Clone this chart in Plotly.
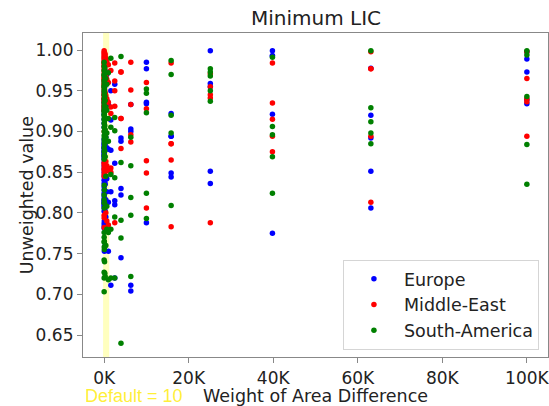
import plotly.graph_objects as go

# ---------------- data ----------------
weights = [1, 1.585, 2.512, 3.981, 6.31, 10, 15.85, 25.12, 39.81, 63.1, 100,
           158.5, 251.2, 398.1, 631, 1000, 1585, 2512, 3981, 6310, 10000,
           15849, 25119, 39811, 63096, 100000]

europe = [
    [0.939, 0.890, 0.875, 0.840, 0.815],
    [0.935, 0.886, 0.872, 0.836, 0.812],
    [0.930, 0.882, 0.869, 0.832, 0.809],
    [0.926, 0.879, 0.866, 0.828, 0.806],
    [0.921, 0.884, 0.862, 0.824, 0.802],
    [0.915, 0.880, 0.858, 0.821, 0.787],
    [0.910, 0.876, 0.854, 0.818, 0.784],
    [0.905, 0.873, 0.850, 0.815, 0.781],
    [0.948, 0.870, 0.846, 0.812, 0.790],
    [0.944, 0.868, 0.843, 0.810, 0.753],
    [0.940, 0.877, 0.840, 0.808, 0.793],
    [0.955, 0.888, 0.838, 0.805, 0.786],
    [0.960, 0.885, 0.835, 0.802, 0.760],
    [0.965, 0.893, 0.845, 0.816, 0.795],
    [0.970, 0.938, 0.880, 0.842, 0.826],
    [0.973, 0.933, 0.878, 0.813, 0.753],
    [0.950, 0.914, 0.877, 0.826, 0.711],
    [0.958, 0.861, 0.815, 0.810, 0.720],
    [0.892, 0.888, 0.830, 0.822, 0.745],
    [0.933, 0.903, 0.900, 0.711, 0.704],
    [0.985, 0.977, 0.936, 0.934, 0.788],
    [0.922, 0.894, 0.849, 0.844, 0.894],
    [0.999, 0.959, 0.851, 0.836, 0.955],
    [0.999, 0.993, 0.921, 0.775, 0.993],
    [0.9775, 0.920, 0.892, 0.851, 0.806],
    [0.998, 0.989, 0.973, 0.939, 0.934],
]

middle_east = [
    [0.999, 0.985, 0.965, 0.945, 0.860],
    [0.997, 0.982, 0.962, 0.940, 0.855],
    [0.995, 0.979, 0.958, 0.935, 0.852],
    [0.993, 0.976, 0.955, 0.930, 0.848],
    [0.991, 0.973, 0.952, 0.925, 0.845],
    [0.989, 0.970, 0.949, 0.938, 0.797],
    [0.987, 0.968, 0.946, 0.932, 0.794],
    [0.985, 0.966, 0.943, 0.928, 0.782],
    [0.983, 0.964, 0.940, 0.900, 0.862],
    [0.980, 0.961, 0.937, 0.958, 0.858],
    [0.978, 0.959, 0.934, 0.990, 0.853],
    [0.996, 0.975, 0.950, 0.944, 0.850],
    [0.994, 0.972, 0.947, 0.981, 0.846],
    [0.990, 0.968, 0.944, 0.863, 0.800],
    [0.986, 0.964, 0.940, 0.858, 0.790],
    [0.982, 0.960, 0.936, 0.852, 0.785],
    [0.975, 0.922, 0.855, 0.850, 0.930],
    [0.984, 0.962, 0.950, 0.931, 0.788],
    [0.973, 0.916, 0.879, 0.916, 0.973],
    [0.985, 0.951, 0.933, 0.896, 0.887],
    [0.960, 0.928, 0.864, 0.849, 0.806],
    [0.984, 0.885, 0.865, 0.783, 0.885],
    [0.971, 0.955, 0.945, 0.941, 0.788],
    [0.984, 0.935, 0.915, 0.894, 0.875],
    [0.998, 0.977, 0.894, 0.813, 0.977],
    [0.998, 0.965, 0.9365, 0.894, 0.940],
]

south_america = [
    [0.985, 0.955, 0.925, 0.880, 0.742],
    [0.980, 0.950, 0.920, 0.875, 0.727],
    [0.975, 0.945, 0.915, 0.870, 0.720],
    [0.970, 0.940, 0.910, 0.866, 0.703],
    [0.968, 0.936, 0.905, 0.822, 0.776],
    [0.963, 0.932, 0.900, 0.816, 0.770],
    [0.960, 0.928, 0.895, 0.812, 0.764],
    [0.957, 0.924, 0.892, 0.806, 0.758],
    [0.955, 0.921, 0.889, 0.834, 0.765],
    [0.952, 0.918, 0.886, 0.828, 0.755],
    [0.948, 0.913, 0.884, 0.812, 0.740],
    [0.978, 0.943, 0.907, 0.876, 0.726],
    [0.972, 0.938, 0.902, 0.869, 0.722],
    [0.965, 0.930, 0.893, 0.845, 0.760],
    [0.958, 0.926, 0.898, 0.808, 0.780],
    [0.972, 0.916, 0.888, 0.776, 0.718],
    [0.990, 0.905, 0.847, 0.780, 0.720],
    [0.917, 0.901, 0.843, 0.795, 0.720],
    [0.992, 0.862, 0.791, 0.769, 0.640],
    [0.893, 0.858, 0.819, 0.797, 0.722],
    [0.952, 0.947, 0.923, 0.824, 0.793],
    [0.987, 0.970, 0.920, 0.898, 0.809],
    [0.977, 0.973, 0.968, 0.950, 0.937],
    [0.991, 0.906, 0.896, 0.869, 0.824],
    [0.999, 0.929, 0.912, 0.898, 0.885],
    [0.999, 0.994, 0.943, 0.884, 0.835],
]

region_names = ["Europe", "Middle-East", "South-America"]
region_colors = ["#0000ff", "#ff0000", "#008000"]
region_values = [europe, middle_east, south_america]

x_ticks = [0, 20000, 40000, 60000, 80000, 100000]
x_ticktext = ["0K", "20K", "40K", "60K", "80K", "100K"]
y_ticks = [0.65, 0.70, 0.75, 0.80, 0.85, 0.90, 0.95, 1.00]
default_weight = 10

# ---------------- figure ----------------
FONT = "DejaVu Sans"
fig = go.Figure()
for name, color, vals in zip(region_names, region_colors, region_values):
    xs, ys = [], []
    for w, col in zip(weights, vals):
        for v in col:
            xs.append(w)
            ys.append(v)
    fig.add_trace(go.Scatter(
        x=xs, y=ys, mode="markers", name=name,
        marker=dict(color=color, size=5.5, line=dict(width=0)),
    ))

fig.add_shape(type="rect", xref="x", yref="paper", x0=-250, x1=1200, y0=0, y1=1,
              fillcolor="rgba(255,255,0,0.25)", line=dict(width=0), layer="below")

axis_common = dict(showgrid=False, zeroline=False, showline=True, linecolor="#888888",
                   linewidth=1.25, mirror=True, ticks="outside", ticklen=5,
                   tickcolor="#888888", tickwidth=1.25, automargin=False,
                   ticklabeloverflow="allow",
                   tickfont=dict(family=FONT, size=17, color="#222222"))

fig.update_layout(
    template="none",
    width=549, height=406,
    margin=dict(l=83, r=1, t=33, b=49, pad=0),
    paper_bgcolor="white", plot_bgcolor="white",
    xaxis=dict(range=[-5000, 105000], tickvals=x_ticks, ticktext=x_ticktext, **axis_common),
    yaxis=dict(range=[0.623, 1.0209], tickvals=y_ticks,
               ticktext=[f"{v:.2f}" for v in y_ticks], **axis_common),
    legend=dict(x=0.559, y=0.022, xanchor="left", yanchor="bottom", itemwidth=50,
                bgcolor="rgba(255,255,255,0.8)", bordercolor="#d5d5d5", borderwidth=1,
                font=dict(family=FONT, size=17.5, color="#222222")),
    annotations=[
        dict(text="Minimum LIC", x=0.5, y=1.046, xref="paper", yref="paper",
             xanchor="center", yanchor="middle", showarrow=False,
             font=dict(family=FONT, size=20, color="#222222")),
        dict(text="Weight of Area Difference", x=0.499, y=-0.12, xref="paper", yref="paper",
             xanchor="center", yanchor="middle", showarrow=False,
             font=dict(family=FONT, size=17.5, color="#222222")),
        dict(text=f"Default = {default_weight}", x=0.0, y=-0.12, xref="paper", yref="paper",
             xanchor="left", yanchor="middle", showarrow=False,
             font=dict(family="Liberation Sans", size=18, color="rgba(255,235,0,0.8)")),
        dict(text="Unweighted value", x=-0.12, y=0.5, xref="paper", yref="paper",
             xanchor="center", yanchor="middle", textangle=-90, showarrow=False,
             font=dict(family=FONT, size=17.5, color="#222222")),
    ],
)

fig.write_html("out.html", config={"displayModeBar": False},
               post_script="document.body.style.margin='0';document.body.style.padding='0';")
